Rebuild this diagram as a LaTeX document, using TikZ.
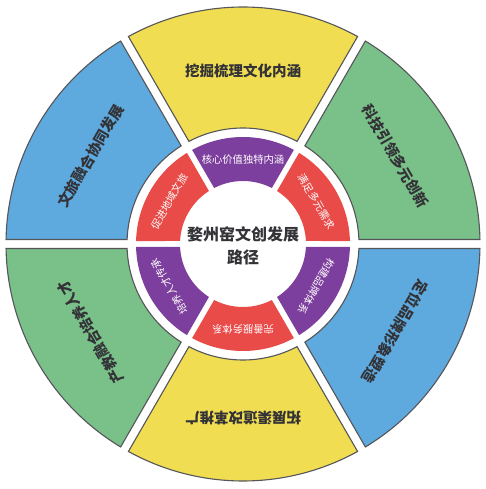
\documentclass[tikz,border=0pt]{standalone}
\usepackage{fontspec}
\newfontfamily\cjk{Noto Sans CJK SC}
\definecolor{cYel}{RGB}{240,221,82}
\definecolor{cGrn}{RGB}{122,192,137}
\definecolor{cBlu}{RGB}{94,169,221}
\definecolor{cRed}{RGB}{233,75,72}
\definecolor{cPur}{RGB}{125,63,158}
\definecolor{cEdge}{RGB}{85,85,90}
\definecolor{cTxt}{RGB}{50,50,55}
\newcommand\ringsector[6]{%
  \pgfmathsetmacro\dIn{asin(#5/#3)}%
  \pgfmathsetmacro\dOut{asin(#5/#4)}%
  \draw[#6] (#1+\dOut:#4) arc[start angle=#1+\dOut, end angle=#2-\dOut, radius=#4]
    -- (#2-\dIn:#3) arc[start angle=#2-\dIn, end angle=#1+\dIn, radius=#3] -- cycle;
}
\begin{document}
\begin{tikzpicture}[x=1pt,y=1pt,
  outerseg/.style={line width=1.1pt, draw=cEdge},
  innerseg/.style={draw=none},
  outertxt/.style={font=\cjk\bfseries\fontsize{14.5}{16}\selectfont, text=cTxt, inner sep=0pt},
  innertxt/.style={font=\cjk\fontsize{10.3}{12}\selectfont, text=white, inner sep=0pt},
  centertxt/.style={font=\cjk\bfseries\fontsize{16}{23}\selectfont, text=cTxt, align=center, inner sep=0pt}]
\useasboundingbox (-243,-245) rectangle (243,244);
\coordinate (O) at (0,0);
% outer ring
\ringsector{60}{120}{116}{237}{4.5}{outerseg, fill=cYel}
\ringsector{0}{60}{116}{237}{4.5}{outerseg, fill=cGrn}
\ringsector{-60}{0}{116}{237}{4.5}{outerseg, fill=cBlu}
\ringsector{240}{300}{116}{237}{4.5}{outerseg, fill=cYel}
\ringsector{180}{240}{116}{237}{4.5}{outerseg, fill=cGrn}
\ringsector{120}{180}{116}{237}{4.5}{outerseg, fill=cBlu}
% inner ring
\ringsector{60}{120}{63}{107}{3}{innerseg, fill=cPur}
\ringsector{0}{60}{63}{107}{3}{innerseg, fill=cRed}
\ringsector{-60}{0}{63}{107}{3}{innerseg, fill=cPur}
\ringsector{240}{300}{63}{107}{3}{innerseg, fill=cRed}
\ringsector{180}{240}{63}{107}{3}{innerseg, fill=cPur}
\ringsector{120}{180}{63}{107}{3}{innerseg, fill=cRed}
% outer texts
\node[outertxt, rotate=0]   (o1) at (90:173)  {挖掘梳理文化内涵};
\node[outertxt, rotate=-60] (o2) at (30:176)  {科技引领多元创新};
\node[outertxt, rotate=240] (o3) at (-30:176) {定位品牌形象塑造};
\node[outertxt, rotate=180] (o4) at (270:174) {拓展渠道改革推广};
\node[outertxt, rotate=120] (o5) at (210:176) {产教融合培养人才};
\node[outertxt, rotate=60]  (o6) at (150:176) {文旅融合协同发展};
% inner texts
\node[innertxt, rotate=0]   (i1) at (90:84)  {核心价值独特内涵};
\node[innertxt, rotate=-60] (i2) at (30:85)  {满足多元需求};
\node[innertxt, rotate=240] (i3) at (-30:85) {构建品牌体系};
\node[innertxt, rotate=180] (i4) at (270:85) {完善服务体系};
\node[innertxt, rotate=120] (i5) at (210:85) {培养人才传承};
\node[innertxt, rotate=60]  (i6) at (150:85) {促进地域文旅};
% center
\node[centertxt] (c) at (0,-2) {婺州窑文创发展\\路径};
\end{tikzpicture}
\end{document}
